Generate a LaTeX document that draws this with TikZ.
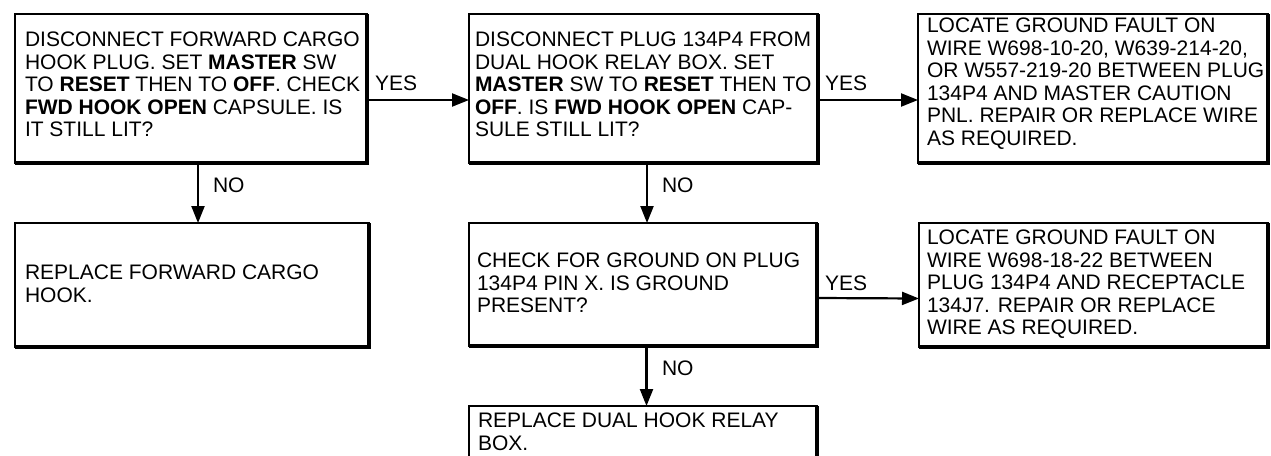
\documentclass[tikz,border=0pt]{standalone}
\usepackage{fontspec}
\setmainfont{Liberation Sans}
\usetikzlibrary{arrows.meta}
\begin{document}
\begin{tikzpicture}[x=1pt,y=-1pt,
  box/.style={draw, line width=2pt, inner sep=0pt, outer sep=0pt, anchor=north west},
  txt/.style={inner sep=0pt, outer sep=0pt, anchor=north west, align=left, font=\fontsize{21}{22.5}\selectfont},
  lbl/.style={inner sep=0pt, outer sep=0pt, anchor=base west, font=\fontsize{21}{22.5}\selectfont},
  arr/.style={line width=2.2pt, -{Triangle[length=17pt,width=13pt]}}
]
\useasboundingbox (0,0) rectangle (1271,455);
\clip (0,0) rectangle (1271,455);
% boxes
\node[box, minimum width=352pt, minimum height=149pt] (b1) at (15,14) {};
\node[box, minimum width=349pt, minimum height=149pt] (b2) at (469,14) {};
\node[box, minimum width=350pt, minimum height=149pt] (b3) at (918,14) {};
\node[box, minimum width=354pt, minimum height=124pt] (b4) at (15,223) {};
\node[box, minimum width=348pt, minimum height=123pt] (b5) at (469,223) {};
\node[box, minimum width=349pt, minimum height=124pt] (b6) at (919,223) {};
\node[box, minimum width=348pt, minimum height=70pt] (b7) at (469,406) {};
\foreach \n in {b1,b2,b3,b4,b5,b6,b7}
  \draw[line width=4pt] (\n.north east) -- (\n.south east) -- (\n.south west);
% texts
\node[txt] (t1) at (25,32) {DISCONNECT FORWARD CARGO\\HOOK PLUG. SET \textbf{MASTER} SW\\TO \textbf{RESET} THEN TO \textbf{OFF}. CHECK\\\textbf{FWD HOOK OPEN} CAPSULE. IS\\IT STILL LIT?};
\node[txt] (t2) at (475,32) {DISCONNECT PLUG 134P4 FROM\\DUAL HOOK RELAY BOX. SET\\\textbf{MASTER} SW TO \textbf{RESET} THEN TO\\\textbf{OFF}. IS \textbf{FWD HOOK OPEN} CAP-\\SULE STILL LIT?};
\node[txt] (t3) at (927,18) {LOCATE GROUND FAULT ON\\WIRE W698-10-20, W639-214-20,\\OR W557-219-20 BETWEEN PLUG\\134P4 AND MASTER CAUTION\\PNL. REPAIR OR REPLACE WIRE\\AS REQUIRED.};
\node[txt] (t4) at (25,265) {REPLACE FORWARD CARGO\\HOOK.};
\node[txt] (t5) at (477,253) {CHECK FOR GROUND ON PLUG\\134P4 PIN X. IS GROUND\\PRESENT?};
\node[txt] (t6) at (927,230) {LOCATE GROUND FAULT ON\\WIRE W698-18-22 BETWEEN\\PLUG 134P4 AND RECEPTACLE\\134J7. REPAIR OR REPLACE\\WIRE AS REQUIRED.};
\node[txt] (t7) at (478,413) {REPLACE DUAL HOOK RELAY\\BOX.};
% connectors
\draw[arr] ([yshift=-11.5pt]b1.east) -- ([yshift=-11.5pt]b2.west);
\draw[arr] ([yshift=-11.5pt]b2.east) -- ([yshift=-11.5pt]b3.west);
\draw[arr] ([yshift=-13.5pt]b5.east) -- ([yshift=-13.5pt]b6.west);
\draw[arr] ([xshift=7pt]b1.south) -- ([xshift=7pt]b1.south |- b4.north);
\draw[arr] ([xshift=3.5pt]b2.south) -- ([xshift=3.5pt]b2.south |- b5.north);
\draw[arr] ([xshift=3.5pt]b5.south) -- ([xshift=3.5pt]b5.south |- b7.north);
% labels
\node[lbl] (y1) at (375,90) {YES};
\node[lbl] (y2) at (825,90) {YES};
\node[lbl] (y3) at (825,290) {YES};
\node[lbl] (n1) at (213,192) {NO};
\node[lbl] (n2) at (662,192) {NO};
\node[lbl] (n3) at (662,375) {NO};
\end{tikzpicture}
\end{document}
